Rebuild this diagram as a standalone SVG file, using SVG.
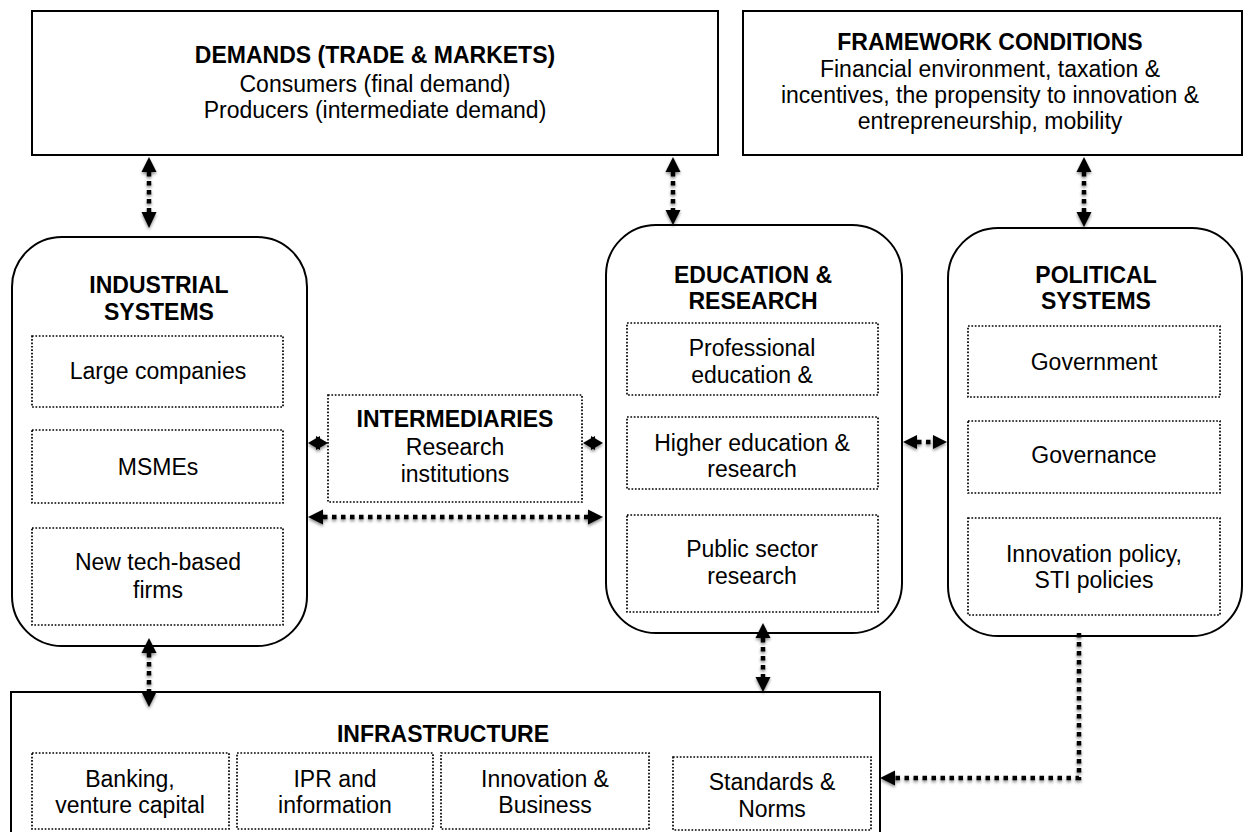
<svg xmlns="http://www.w3.org/2000/svg" width="1244" height="832" viewBox="0 0 1244 832">
<defs>
<filter id="sh" x="-50%" y="-50%" width="200%" height="200%">
<feDropShadow dx="0" dy="2" stdDeviation="1.6" flood-color="#000" flood-opacity="0.45"/>
</filter>
</defs>
<style>
text{font-family:"Liberation Sans",Arial,Helvetica,sans-serif;font-size:23px;fill:#000;text-anchor:middle}
.b{font-weight:bold}
.box{fill:#fff;stroke:#000;stroke-width:2}
.rbox{fill:#fff;stroke:#000;stroke-width:2}
.dot{fill:#fff;stroke:#000;stroke-width:1.7;stroke-dasharray:1.7 1.7}
.ln{fill:none;stroke:#000;stroke-width:4.5;stroke-dasharray:4.5 4.5}
.hd{fill:#000}
</style>
<rect width="1244" height="832" fill="#fff"/>

<g id="demands">
<rect class="box" x="32" y="11" width="686" height="144"/>
<text class="b" x="375" y="63">DEMANDS (TRADE &amp; MARKETS)</text>
<text x="375" y="92">Consumers (final demand)</text>
<text x="375" y="118">Producers (intermediate demand)</text>
</g>

<g id="framework">
<rect class="box" x="743" y="11" width="499" height="144"/>
<text class="b" x="990" y="50">FRAMEWORK CONDITIONS</text>
<text x="990" y="77">Financial environment, taxation &amp;</text>
<text x="990" y="103">incentives, the propensity to innovation &amp;</text>
<text x="990" y="129">entrepreneurship, mobility</text>
</g>

<g id="industrial">
<rect class="rbox" x="12" y="237" width="295" height="409" rx="50" ry="50"/>
<text class="b" x="159" y="293">INDUSTRIAL</text>
<text class="b" x="159" y="320">SYSTEMS</text>
<rect class="dot" x="32" y="336" width="251" height="71"/>
<text x="158" y="379">Large companies</text>
<rect class="dot" x="32" y="430" width="251" height="73"/>
<text x="158" y="475">MSMEs</text>
<rect class="dot" x="32" y="528" width="251" height="97"/>
<text x="158" y="570">New tech-based</text>
<text x="158" y="598">firms</text>
</g>

<g id="intermediaries">
<rect class="dot" x="328" y="395" width="254" height="107"/>
<text class="b" x="455" y="427">INTERMEDIARIES</text>
<text x="455" y="455">Research</text>
<text x="455" y="482">institutions</text>
</g>

<g id="education">
<rect class="rbox" x="606" y="225" width="296" height="408" rx="50" ry="50"/>
<text class="b" x="753" y="283">EDUCATION &amp;</text>
<text class="b" x="753" y="309">RESEARCH</text>
<rect class="dot" x="627" y="323" width="251" height="72"/>
<text x="752" y="356">Professional</text>
<text x="752" y="383">education &amp;</text>
<rect class="dot" x="627" y="417" width="251" height="72"/>
<text x="752" y="451">Higher education &amp;</text>
<text x="752" y="477">research</text>
<rect class="dot" x="627" y="515" width="251" height="97"/>
<text x="752" y="557">Public sector</text>
<text x="752" y="584">research</text>
</g>

<g id="political">
<rect class="rbox" x="948" y="228" width="294" height="408" rx="50" ry="50"/>
<text class="b" x="1096" y="283">POLITICAL</text>
<text class="b" x="1096" y="309">SYSTEMS</text>
<rect class="dot" x="968" y="326" width="252" height="71"/>
<text x="1094" y="370">Government</text>
<rect class="dot" x="968" y="421" width="252" height="72"/>
<text x="1094" y="463">Governance</text>
<rect class="dot" x="968" y="518" width="252" height="97"/>
<text x="1094" y="562">Innovation policy,</text>
<text x="1094" y="588">STI policies</text>
</g>

<g id="infrastructure">
<rect class="box" x="11" y="692" width="869" height="150"/>
<text class="b" x="443" y="742">INFRASTRUCTURE</text>
<rect class="dot" x="32" y="753" width="197" height="76"/>
<text x="130" y="787">Banking,</text>
<text x="130" y="813">venture capital</text>
<rect class="dot" x="237" y="753" width="196" height="76"/>
<text x="335" y="787">IPR and</text>
<text x="335" y="813">information</text>
<rect class="dot" x="441" y="753" width="208" height="76"/>
<text x="545" y="787">Innovation &amp;</text>
<text x="545" y="813">Business</text>
<rect class="dot" x="673" y="757" width="198" height="73"/>
<text x="772" y="790">Standards &amp;</text>
<text x="772" y="817">Norms</text>
</g>

<g id="connectors" filter="url(#sh)">
<!-- demands - industrial -->
<line class="ln" x1="149" y1="172" x2="149" y2="212"/>
<path class="hd" d="M149,157 L156.5,172 L141.5,172 Z"/>
<path class="hd" d="M149,228 L156.5,212 L141.5,212 Z"/>
<!-- demands - education -->
<line class="ln" x1="673" y1="172" x2="673" y2="210"/>
<path class="hd" d="M673,157 L680.5,172 L665.5,172 Z"/>
<path class="hd" d="M673,225 L680.5,210 L665.5,210 Z"/>
<!-- framework - political -->
<line class="ln" x1="1084" y1="172" x2="1084" y2="212"/>
<path class="hd" d="M1084,157 L1091.5,172 L1076.5,172 Z"/>
<path class="hd" d="M1084,227 L1091.5,212 L1076.5,212 Z"/>
<!-- industrial - infrastructure -->
<line class="ln" x1="149" y1="653" x2="149" y2="692"/>
<path class="hd" d="M149,638 L156.5,653 L141.5,653 Z"/>
<path class="hd" d="M149,707 L156.5,692 L141.5,692 Z"/>
<!-- education - infrastructure -->
<line class="ln" x1="763" y1="638" x2="763" y2="677"/>
<path class="hd" d="M763,623 L770.5,638 L755.5,638 Z"/>
<path class="hd" d="M763,692 L770.5,677 L755.5,677 Z"/>
<!-- political - standards (elbow) -->
<polyline class="ln" points="1079,633 1079,778 895,778"/>
<path class="hd" d="M880,778 L895,770.5 L895,785.5 Z"/>
<!-- industrial - intermediaries (short) -->
<path class="hd" d="M308,443 L320,436 L320,450 Z"/>
<path class="hd" d="M328,443 L316,436 L316,450 Z"/>
<!-- intermediaries - education (short) -->
<path class="hd" d="M583,443 L595,436 L595,450 Z"/>
<path class="hd" d="M603,443 L591,436 L591,450 Z"/>
<!-- industrial - education (long) -->
<line class="ln" x1="323" y1="517" x2="588" y2="517"/>
<path class="hd" d="M308,517 L323,509.5 L323,524.5 Z"/>
<path class="hd" d="M603,517 L588,509.5 L588,524.5 Z"/>
<!-- education - political -->
<line class="ln" x1="917" y1="442" x2="933" y2="442"/>
<path class="hd" d="M903,442 L917,435 L917,449 Z"/>
<path class="hd" d="M947,442 L933,435 L933,449 Z"/>
</g>
</svg>
